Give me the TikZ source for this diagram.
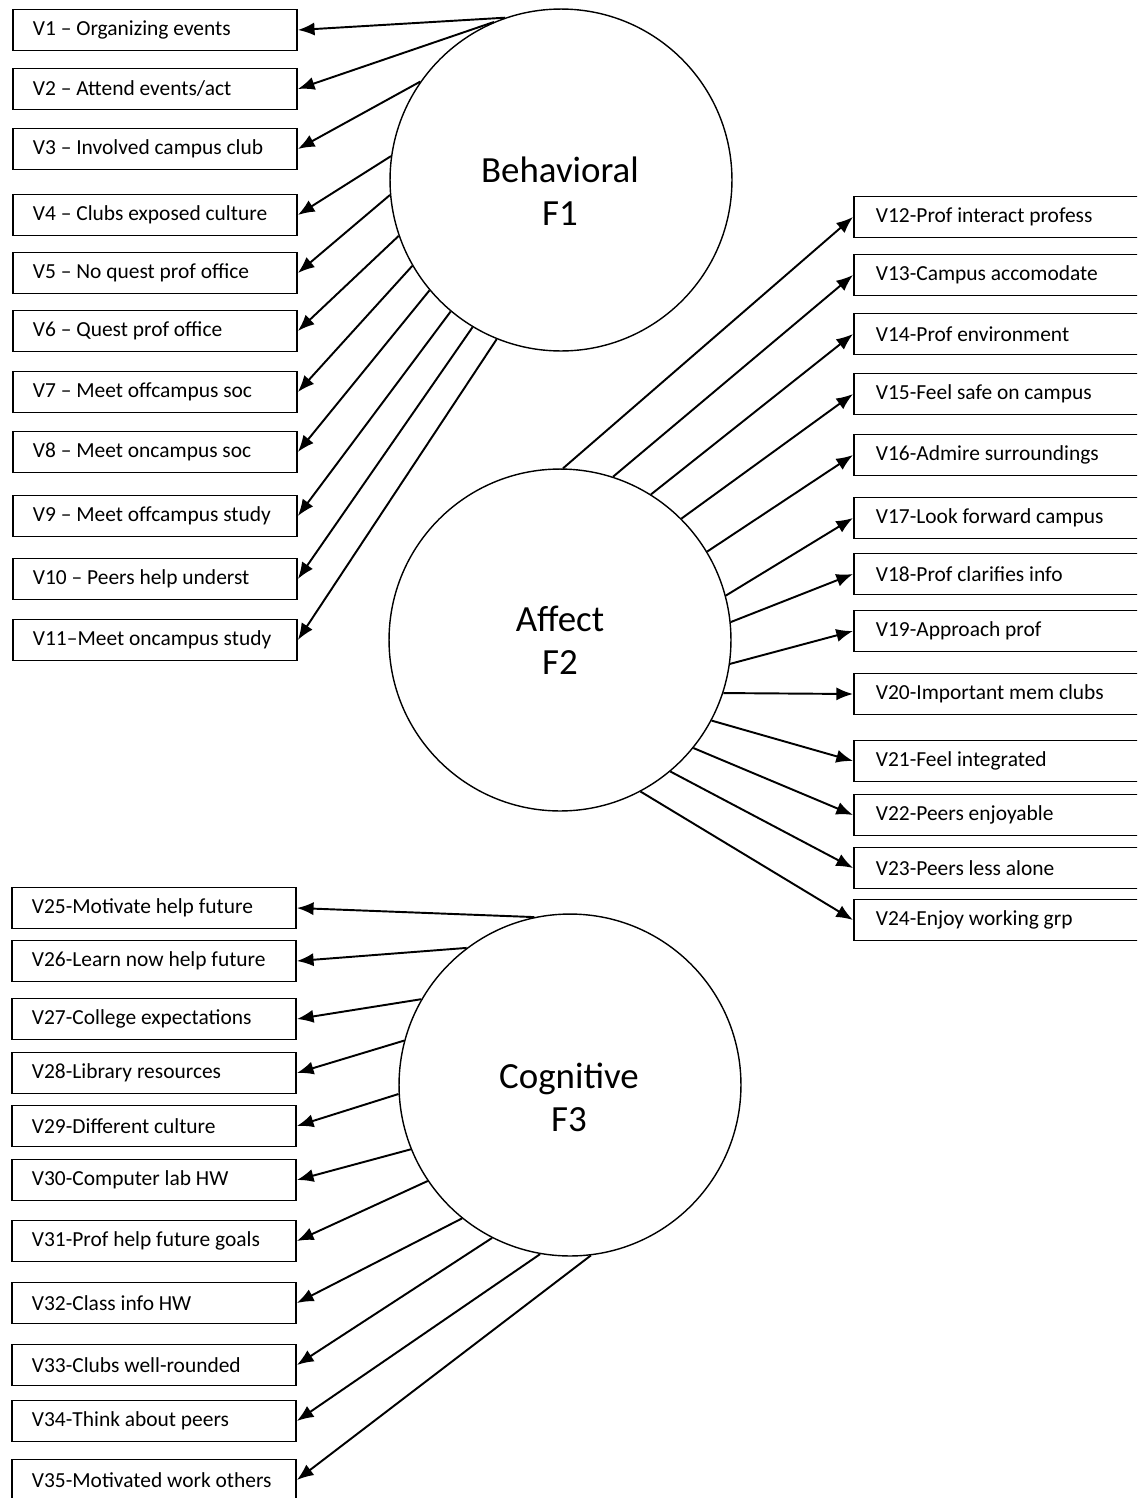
\documentclass[tikz,border=0pt]{standalone}
\usepackage{fontspec}
\setmainfont{Carlito}
\usetikzlibrary{arrows.meta}

\begin{document}
\begin{tikzpicture}[x=0.02cm,y=-0.02cm,
    vbox/.style={draw, line width=1.1pt, rectangle, anchor=west, inner xsep=0.4cm, minimum height=0.82cm, font=\fontsize{12.2}{14}\selectfont,
        execute at begin node={\hbox to 4.88cm\bgroup}, execute at end node={\hss\egroup}},
    rbox/.style={draw, line width=1.1pt, rectangle, anchor=west, inner xsep=0.44cm, minimum height=0.82cm, font=\fontsize{12.2}{14}\selectfont,
        execute at begin node={\hbox to 4.96cm\bgroup}, execute at end node={\hss\egroup}},
    factor/.style={draw, circle, line width=0.8pt, minimum size=6.84cm, inner sep=0pt},
    ftext/.style={align=center, font=\fontsize{21}{24.4}\selectfont},
    load/.style={line width=1.1pt, -{Latex[length=9.5pt,width=7.5pt]}}]
    \useasboundingbox (0,0) rectangle (1137,1498);
    \clip (0,0) rectangle (1137,1498);

    % factors
    \node[factor] (F1) at (561,180) {};
    \node[ftext] (F1t) at (560,191) {Behavioral\\F1};
    \node[factor] (F2) at (560,640) {};
    \node[ftext] (F2t) at (560,640) {Affect\\F2};
    \node[factor] (F3) at (570,1085) {};
    \node[ftext] (F3t) at (569,1097) {Cognitive\\F3};

    % behavioral items
    \node[vbox] (v1) at (12,30) {V1 – Organizing events};
    \node[vbox] (v2) at (12,89) {V2 – Attend events/act};
    \node[vbox] (v3) at (12,149) {V3 – Involved campus club};
    \node[vbox] (v4) at (12,215) {V4 – Clubs exposed culture};
    \node[vbox] (v5) at (12,273) {V5 – No quest prof office};
    \node[vbox] (v6) at (12,331) {V6 – Quest prof office};
    \node[vbox] (v7) at (12,392) {V7 – Meet offcampus soc};
    \node[vbox] (v8) at (12,452) {V8 – Meet oncampus soc};
    \node[vbox] (v9) at (12,516) {V9 – Meet offcampus study};
    \node[vbox] (v10) at (12,579) {V10 – Peers help underst};
    \node[vbox] (v11) at (12,640) {V11–Meet oncampus study};

    % affect items
    \node[rbox] (v12) at (853,217) {V12-Prof interact profess};
    \node[rbox] (v13) at (853,275) {V13-Campus accomodate};
    \node[rbox] (v14) at (853,334) {V14-Prof environment};
    \node[rbox] (v15) at (853,394) {V15-Feel safe on campus};
    \node[rbox] (v16) at (853,455) {V16-Admire surroundings};
    \node[rbox] (v17) at (853,518) {V17-Look forward campus};
    \node[rbox] (v18) at (853,574) {V18-Prof clarifies info};
    \node[rbox] (v19) at (853,631) {V19-Approach prof};
    \node[rbox] (v20) at (853,694) {V20-Important mem clubs};
    \node[rbox] (v21) at (853,761) {V21-Feel integrated};
    \node[rbox] (v22) at (853,815) {V22-Peers enjoyable};
    \node[rbox] (v23) at (853,868) {V23-Peers less alone};
    \node[rbox] (v24) at (853,920) {V24-Enjoy working grp};

    % cognitive items
    \node[vbox] (v25) at (11,908) {V25-Motivate help future};
    \node[vbox] (v26) at (11,961) {V26-Learn now help future};
    \node[vbox] (v27) at (11,1019) {V27-College expectations};
    \node[vbox] (v28) at (11,1073) {V28-Library resources};
    \node[vbox] (v29) at (11,1126) {V29-Different culture};
    \node[vbox] (v30) at (11,1180) {V30-Computer lab HW};
    \node[vbox] (v31) at (11,1241) {V31-Prof help future goals};
    \node[vbox] (v32) at (11,1303) {V32-Class info HW};
    \node[vbox] (v33) at (11,1365) {V33-Clubs well-rounded};
    \node[vbox] (v34) at (11,1421) {V34-Think about peers};
    \node[vbox] (v35) at (11,1480) {V35-Motivated work others};

    % loadings
    \foreach \a/\v in {109/v1,113/v2,145/v3,172/v4,185/v5,199/v6,210/v7,220/v8,230/v9,239/v10,248/v11}
        \draw[load] (F1.\a) -- (\v.east);
    \foreach \a/\v in {89/v12,72/v13,58/v14,45/v15,31/v16,15/v17,6/v18,352/v19,342/v20,332/v21,321/v22,310/v23,298/v24}
        \draw[load] (F2.\a) -- (\v.west);
    \foreach \a/\v in {102/v25,127/v26,150/v27,165/v28,183/v29,202/v30,214/v31,231/v32,243/v33,260/v34,277/v35}
        \draw[load] (F3.\a) -- (\v.east);
\end{tikzpicture}
\end{document}
